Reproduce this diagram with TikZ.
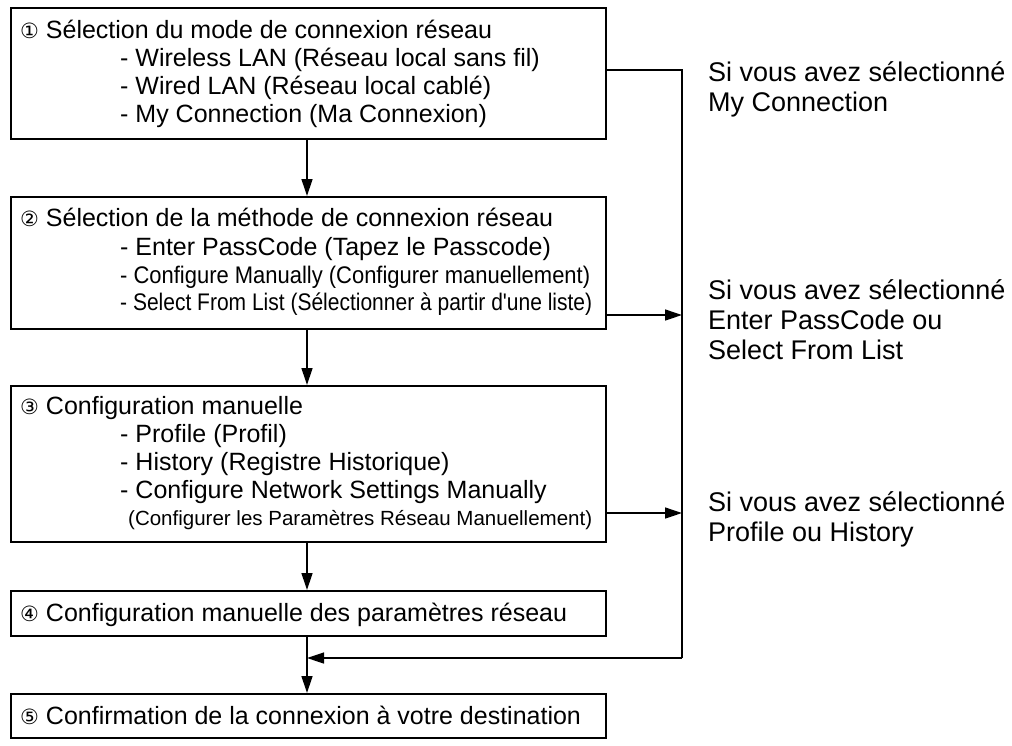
\documentclass[tikz,border=0pt]{standalone}
\usepackage{fontspec}
\usepackage{graphicx}
\setmainfont{Liberation Sans}
\newfontfamily\circf{DejaVu Sans}
\usetikzlibrary{arrows.meta}
\begin{document}
\begin{tikzpicture}[x=1pt,y=-1pt,
  box/.style={draw,line width=1.6pt,inner sep=0pt},
  t/.style={anchor=base west,inner sep=0pt,font=\fontsize{25}{25}\selectfont},
  tr/.style={anchor=base west,inner sep=0pt,font=\fontsize{27}{27}\selectfont},
  ts/.style={anchor=base west,inner sep=0pt,font=\fontsize{24}{24}\selectfont},
  tx/.style={anchor=base west,inner sep=0pt,font=\fontsize{20.5}{20}\selectfont},
  ar/.style={line width=1.3pt,-{Triangle[length=17pt,width=11pt]}},
  ln/.style={line width=1.3pt}]
\newcommand{\cn}[1]{{\circf\fontsize{21}{21}\selectfont #1}}
\useasboundingbox (0,0) rectangle (1012,745);
\node[box,minimum width=595pt,minimum height=131pt,anchor=north west] (b1) at (10,7) {};
\node[box,minimum width=595pt,minimum height=132pt,anchor=north west] (b2) at (10,196) {};
\node[box,minimum width=595pt,minimum height=156pt,anchor=north west] (b3) at (10,385) {};
\node[box,minimum width=595pt,minimum height=45pt,anchor=north west] (b4) at (10,590) {};
\node[box,minimum width=595pt,minimum height=44pt,anchor=north west] (b5) at (10,693) {};
% box 1
\node[t] (l11) at (20,38) {\cn{①} Sélection du mode de connexion réseau};
\node[t] (l12) at (120,66) {- Wireless LAN (Réseau local sans fil)};
\node[t] (l13) at (120,94) {- Wired LAN (Réseau local cablé)};
\node[t] (l14) at (120,122) {- My Connection (Ma Connexion)};
% box 2
\node[t] (l21) at (20,226) {\cn{②} Sélection de la méthode de connexion réseau};
\node[t] (l22) at (120,255) {- Enter PassCode (Tapez le Passcode)};
\node[ts] (l23) at (120,283) {\resizebox{470pt}{\height}{- Configure Manually (Configurer manuellement)}};
\node[ts] (l24) at (120,310) {\resizebox{472pt}{\height}{- Select From List (Sélectionner à partir d\textquotesingle une liste)}};
% box 3
\node[t] (l31) at (20,414) {\cn{③} Configuration manuelle};
\node[t] (l32) at (120,442) {- Profile (Profil)};
\node[t] (l33) at (120,470) {- History (Registre Historique)};
\node[t] (l34) at (120,498) {- Configure Network Settings Manually};
\node[tx] (l35) at (128,525) {\resizebox{464pt}{\height}{(Configurer les Paramètres Réseau Manuellement)}};
% box 4,5
\node[t] (l41) at (20,621) {\cn{④} Configuration manuelle des paramètres réseau};
\node[t] (l51) at (20,724) {\cn{⑤} Confirmation de la connexion à votre destination};
% right labels
\node[tr] (r11) at (708,81) {Si vous avez sélectionné};
\node[tr] (r12) at (708,111) {My Connection};
\node[tr] (r21) at (708,299) {Si vous avez sélectionné};
\node[tr] (r22) at (708,329) {Enter PassCode ou};
\node[tr] (r23) at (708,359) {Select From List};
\node[tr] (r31) at (708,511) {Si vous avez sélectionné};
\node[tr] (r32) at (708,541) {Profile ou History};
% connectors
\coordinate (c1) at (682,70);
\coordinate (c2) at (682,658);
\coordinate (m) at (307,658);
\draw[ar] (b1.south -| 307,0) -- (b2.north -| 307,0);
\draw[ar] (b2.south -| 307,0) -- (b3.north -| 307,0);
\draw[ar] (b3.south -| 307,0) -- (b4.north -| 307,0);
\draw[ar] (b4.south -| 307,0) -- (b5.north -| 307,0);
\draw[ln] (b1.east |- c1) -- (c1) -- (c2);
\draw[ar] (c2) -- (m);
\draw[ar] (b2.east |- 0,315) -- (682,315);
\draw[ar] (b3.east |- 0,513) -- (682,513);
\end{tikzpicture}
\end{document}
